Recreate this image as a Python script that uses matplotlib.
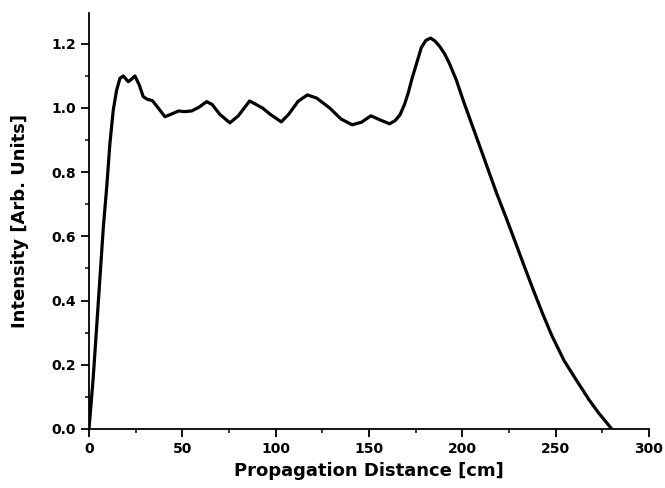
import matplotlib
matplotlib.use("Agg")
import matplotlib.pyplot as plt
from matplotlib.ticker import MultipleLocator

# Data
distance_cm = [0, 1.0, 2.3, 4.1, 5.9, 7.7, 9.5, 11.2, 13, 14.8, 16.6, 18.4, 21, 23, 24.6, 27, 29,
               31, 34, 37, 40.7, 44, 48, 51, 55, 59, 63, 66, 70, 75.5, 80, 86, 89, 93, 97, 103,
               107, 112, 117, 122, 129, 135, 141, 146, 151, 156, 161, 164, 166.6, 169, 171,
               173, 175.6, 178, 180.5, 183, 185.5, 188, 190.5, 193, 196.8, 200.4, 204, 207.6,
               211.2, 214.7, 218.3, 223.7, 229, 232.2, 237.4, 242.8, 248, 254.5, 261, 268,
               273, 277, 280]
intensity = [0, 0.07, 0.163, 0.318, 0.474, 0.63, 0.754, 0.889, 0.993, 1.055, 1.092, 1.099,
             1.081, 1.09, 1.099, 1.07, 1.035, 1.027, 1.022, 1.0, 0.972, 0.98, 0.99, 0.988,
             0.99, 1.002, 1.019, 1.01, 0.98, 0.953, 0.975, 1.021, 1.012, 0.999, 0.98, 0.956,
             0.98, 1.02, 1.04, 1.03, 0.999, 0.965, 0.947, 0.955, 0.975, 0.962, 0.95, 0.96,
             0.978, 1.01, 1.046, 1.09, 1.14, 1.187, 1.21, 1.217, 1.207, 1.19, 1.168, 1.139,
             1.086, 1.024, 0.966, 0.908, 0.850, 0.793, 0.735, 0.654, 0.572, 0.522, 0.442,
             0.362, 0.29, 0.213, 0.153, 0.09, 0.05, 0.022, 0.0]
x_ticks = [0, 50, 100, 150, 200, 250, 300]
y_ticks = [0.0, 0.2, 0.4, 0.6, 0.8, 1.0, 1.2]

plt.rcParams['font.family'] = ['DejaVu Sans']

fig = plt.figure(figsize=(6.65, 4.88), dpi=100)
ax = fig.add_axes([89/665, 1 - 429/488, (649-89)/665, (429-13)/488])

ax.plot(distance_cm, intensity, color='black', linewidth=2.3,
        solid_joinstyle='round', solid_capstyle='round')

ax.set_xlim(0, 300)
ax.set_ylim(0, 1.295)
ax.set_xticks(x_ticks)
ax.set_yticks(y_ticks)
ax.set_xticklabels([str(v) for v in x_ticks])
ax.set_yticklabels([f"{v:.1f}" for v in y_ticks])
ax.xaxis.set_minor_locator(MultipleLocator(25))
ax.yaxis.set_minor_locator(MultipleLocator(0.1))

for s in ['top', 'right']:
    ax.spines[s].set_visible(False)
for s in ['left', 'bottom']:
    ax.spines[s].set_linewidth(1.3)

ax.tick_params(axis='both', which='major', direction='out', length=5.5, width=1.3,
               labelsize=10, pad=4)
ax.tick_params(axis='both', which='minor', direction='out', length=3, width=1.1)
for lab in ax.get_xticklabels() + ax.get_yticklabels():
    lab.set_fontweight('bold')

ax.set_xlabel('Propagation Distance [cm]', fontsize=13, fontweight='bold', labelpad=4)
ax.set_ylabel('Intensity [Arb. Units]', fontsize=13, fontweight='bold', labelpad=16)

fig.savefig('out.png', dpi=100)
